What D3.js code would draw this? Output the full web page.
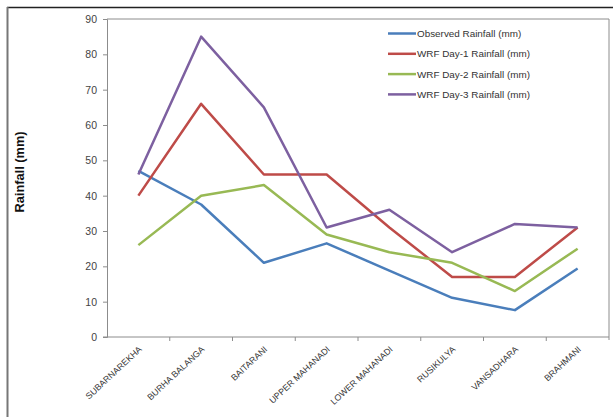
<!DOCTYPE html>
<html>
<head>
<meta charset="utf-8">
<script src="https://cdn.jsdelivr.net/npm/d3@7"></script>
<style>
  body { margin: 0; background: #fff; }
  svg { display: block; font-family: "Liberation Sans", Arial, sans-serif; }
</style>
</head>
<body>
<svg id="chart" width="613" height="417"></svg>
<script>
// basins along the x axis
const basins = ["SUBARNAREKHA", "BURHA BALANGA", "BAITARANI", "UPPER MAHANADI",
  "LOWER MAHANADI", "RUSIKULYA", "VANSADHARA", "BRAHMANI"];

// rainfall values (mm)
const observed = [47, 37.5, 21, 26.5, 18.8, 11.1, 7.6, 19.4];
const wrfDay1 = [40, 66, 46, 46, 31, 17, 17, 31];
const wrfDay2 = [26, 40, 43, 29, 24, 21, 13, 25];
const wrfDay3 = [46, 85, 65, 31, 36, 24, 32, 31];

const seriesNames = ["Observed Rainfall (mm)", "WRF Day-1 Rainfall (mm)",
  "WRF Day-2 Rainfall (mm)", "WRF Day-3 Rainfall (mm)"];
const seriesColors = ["#4a7ebb", "#be4b48", "#98b954", "#7d60a0"];
const yTicks = [0, 10, 20, 30, 40, 50, 60, 70, 80, 90];

const series = [observed, wrfDay1, wrfDay2, wrfDay3];

const svg = d3.select("#chart");
const plotL = 107, plotR = 609, plotT = 19, plotB = 337;

// outer frame (only top and left edge fall inside the picture)
svg.append("line").attr("x1", 7).attr("x2", 613).attr("y1", 7.5).attr("y2", 7.5)
  .attr("stroke", "#222").attr("stroke-width", 1.3);
svg.append("line").attr("x1", 7.5).attr("x2", 7.5).attr("y1", 7).attr("y2", 417)
  .attr("stroke", "#777").attr("stroke-width", 2);

const x = d3.scaleBand().domain(basins).range([plotL, plotR]);
const y = d3.scaleLinear().domain([0, 90]).range([plotB, plotT]);

// plot area border
svg.append("path")
  .attr("d", `M${plotL},${plotT}H${plotR}V${plotB + 3}`)
  .attr("fill", "none").attr("stroke", "#8c8c8c").attr("stroke-width", 1);

// y axis
const yAxis = svg.append("g").attr("transform", `translate(${plotL},0)`)
  .call(d3.axisLeft(y).tickValues(yTicks).tickSize(4).tickPadding(6));
yAxis.select(".domain").attr("stroke", "#8c8c8c");
yAxis.selectAll(".tick line").attr("stroke", "#8c8c8c");
yAxis.selectAll("text").attr("fill", "#444").attr("font-size", 10.5)
  .attr("font-family", "'Liberation Sans', Arial, sans-serif");

// x axis, ticks between categories
const xAxis = svg.append("g").attr("transform", `translate(0,${plotB})`);
xAxis.append("line").attr("x1", plotL - 4).attr("x2", plotR).attr("y1", 0).attr("y2", 0)
  .attr("stroke", "#8c8c8c");
xAxis.selectAll(".sep").data(basins.slice(1)).join("line")
  .attr("x1", d => x(d)).attr("x2", d => x(d)).attr("y1", 0).attr("y2", 4)
  .attr("stroke", "#8c8c8c");
xAxis.selectAll(".lbl").data(basins).join("text")
  .attr("transform", d => `translate(${x(d) + x.bandwidth() / 2 + 4},${13}) rotate(-43)`)
  .attr("text-anchor", "end")
  .attr("font-size", 8.8)
  .attr("fill", "#333")
  .text(d => d);

// y axis title
svg.append("text")
  .attr("transform", "translate(24,172) rotate(-90)")
  .attr("text-anchor", "middle")
  .attr("font-size", 12.8).attr("font-weight", "bold").attr("fill", "#111")
  .text("Rainfall (mm)");

// lines
const line = d3.line()
  .x((d, i) => x(basins[i]) + x.bandwidth() / 2)
  .y(d => y(d));

svg.selectAll(".series").data(series).join("path")
  .attr("d", line)
  .attr("fill", "none")
  .attr("stroke", (d, i) => seriesColors[i])
  .attr("stroke-width", 2.5)
  .attr("stroke-linejoin", "round");

// legend
const legend = svg.append("g");
seriesNames.forEach((name, i) => {
  const ly = 33.5 + i * 20.3;
  legend.append("line").attr("x1", 388).attr("x2", 416).attr("y1", ly).attr("y2", ly)
    .attr("stroke", seriesColors[i]).attr("stroke-width", 2.5);
  legend.append("text").attr("x", 417).attr("y", ly + 3.6)
    .attr("font-size", 9.9).attr("fill", "#333")
    .text(name);
});
</script>
</body>
</html>
